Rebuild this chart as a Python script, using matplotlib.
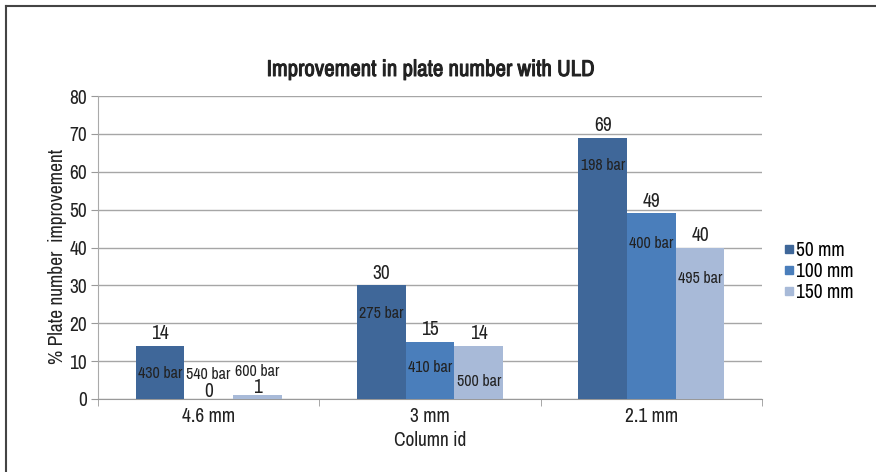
import matplotlib.pyplot as plt
import numpy as np
from matplotlib.lines import Line2D
from matplotlib import font_manager
import matplotlib.patheffects as pe

# data
columns = ["4.6 mm", "3 mm", "2.1 mm"]
series = ["50 mm", "100 mm", "150 mm"]
improvement = {
    "50 mm": [14, 30, 69],
    "100 mm": [0, 15, 49],
    "150 mm": [1, 14, 40],
}
pressure = {
    "50 mm": ["430 bar", "275 bar", "198 bar"],
    "100 mm": ["540 bar", "410 bar", "400 bar"],
    "150 mm": ["600 bar", "500 bar", "495 bar"],
}
colors = ["#3f6799", "#4a7ebb", "#a8bad8"]

# look for a narrow face
fonts = font_manager.fontManager.ttflist
narrow = sorted({f.name for f in fonts if "Narrow" in f.name or "Condensed" in f.name})
fam = narrow[0] if narrow else "DejaVu Sans"
plt.rcParams['font.family'] = [fam, 'DejaVu Sans']
plt.rcParams['font.stretch'] = 'condensed'
txt = "#222222"

fig = plt.figure(figsize=(8.76, 4.72), dpi=100)
ax = fig.add_axes([98/876, 1-399/472, (762-98)/876, (399-96)/472])

x = np.arange(len(columns))
w = 0.22
for i, s in enumerate(series):
    pos = x + (i-1)*w
    bars = ax.bar(pos, improvement[s], w, color=colors[i], zorder=3)
    for b, v, p in zip(bars, improvement[s], pressure[s]):
        cx = b.get_x() + b.get_width()/2
        if v < 5:
            # tiny bar: pressure goes above the value
            ax.annotate(str(v), (cx, v), xytext=(0, -1.5), textcoords="offset points",
                        ha="center", va="bottom", fontsize=14, color=txt)
            ax.annotate(p, (cx, v), xytext=(0, 12), textcoords="offset points",
                        ha="center", va="bottom", fontsize=11.5, color=txt)
            continue
        ax.annotate(str(v), (cx, v), xytext=(0, 2), textcoords="offset points",
                    ha="center", va="bottom", fontsize=14, color=txt)
        if i == 0:
            dy = -20
        elif i == 1:
            dy = -18.5 if v < 20 else -22
        else:
            dy = -25.5 if v < 20 else -22.5
        ax.annotate(p, (cx, v), xytext=(0, dy), textcoords="offset points",
                    ha="center", va="center", fontsize=11.5, color=txt)

ax.set_ylim(0, 80)
ax.set_yticks(range(0, 81, 10))
ax.set_xlim(-0.5, 2.5)
ax.set_xticks(x)
ax.set_xticklabels(columns)
ax.set_xticks([-0.5, 0.5, 1.5, 2.5], minor=True)
ax.tick_params(axis="x", which="major", length=0, labelsize=14, labelcolor=txt, pad=6)
ax.tick_params(axis="x", which="minor", length=5, color="#999999", direction="out")
ax.tick_params(axis="y", length=5, color="#999999", labelsize=14, labelcolor=txt, pad=3)
ax.grid(axis="y", color="#a6a6a6", lw=1, zorder=0)
for sp in ["top", "right"]:
    ax.spines[sp].set_visible(False)
ax.spines["left"].set_color("#aaaaaa")
ax.spines["bottom"].set_color("#999999")

# no bold narrow face, so thicken the title with a stroke
fig.text(431/876, 1-70/472, "Improvement in plate number with ULD",
         fontsize=16.5, color=txt, ha="center", va="center",
         path_effects=[pe.withStroke(linewidth=0.7, foreground=txt)])
ax.set_ylabel("% Plate number  improvement", fontsize=14, color=txt)
ax.yaxis.set_label_coords(-0.047, 0.472)
ax.set_xlabel("Column id", fontsize=14, color=txt, labelpad=3)

handles = [Line2D([], [], ls="none", marker="s", ms=6, mfc=c, mec=c) for c in colors]
fig.legend(handles, series, loc="upper left", bbox_to_anchor=(776/876, 1-233/472),
           frameon=False, fontsize=14, handlelength=0.5, handletextpad=0.15,
           labelspacing=0.1, borderaxespad=0)

# frame lines along top and left
fig.add_artist(Line2D([6/876, 1], [1-6/472, 1-6/472], color="#444444", lw=1.5))
fig.add_artist(Line2D([6/876, 6/876], [0, 1-6/472], color="#444444", lw=1.5))

fig.savefig("out.png", dpi=100)
